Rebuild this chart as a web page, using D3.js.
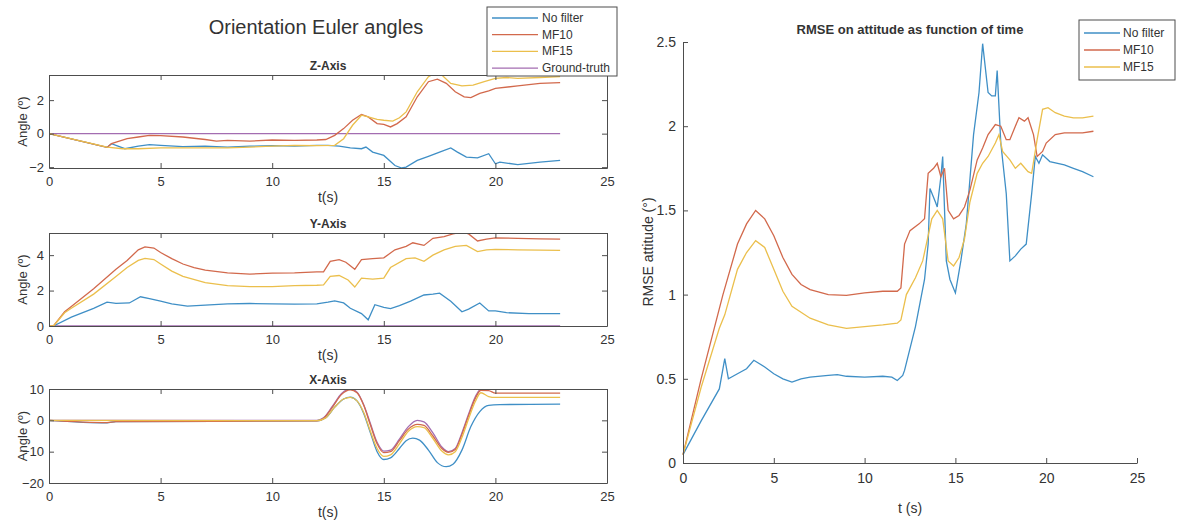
<!DOCTYPE html>
<html>
<head>
<meta charset="utf-8">
<script src="https://cdn.jsdelivr.net/npm/d3@7"></script>
<style>
  body { margin: 0; background: #fff; }
  text { font-family: "Liberation Sans", Arial, sans-serif; fill: #333; }
</style>
</head>
<body>
<svg id="chart" width="1178" height="529"></svg>
<script>
// series names + colours (matlab default order)
const seriesNames = ["No filter", "MF10", "MF15", "Ground-truth"];
const seriesColors = ["#3f8fc6", "#d2694c", "#ebbf4c", "#a36db1"];

const xTicks = [0, 5, 10, 15, 20, 25];

// Z-Axis panel, [t, angle]
const zNoFilter = [[0,0],[2.6,-0.82],[2.8,-0.6],[3.4,-0.9],[4,-0.75],[4.5,-0.65],[5,-0.7],[6,-0.78],[7,-0.75],[8,-0.8],[9,-0.75],[10,-0.72],[11,-0.75],[12,-0.7],[12.5,-0.7],[13,-0.75],[13.5,-0.85],[14,-0.9],[14.2,-0.8],[14.5,-1.1],[15,-1.3],[15.5,-1.9],[15.8,-2.05],[16,-2.0],[16.5,-1.6],[17,-1.35],[17.5,-1.1],[18,-0.85],[18.3,-1.1],[18.7,-1.4],[19.2,-1.45],[19.7,-1.2],[20,-1.8],[20.2,-1.7],[21,-1.85],[22,-1.7],[22.9,-1.6]];
const zMF10 = [[0,0],[2.6,-0.82],[2.8,-0.6],[3.5,-0.3],[4,-0.2],[4.5,-0.1],[5,-0.12],[6,-0.2],[7,-0.35],[7.5,-0.45],[8,-0.4],[9,-0.45],[10,-0.38],[11,-0.4],[12,-0.38],[12.4,-0.35],[12.8,-0.1],[13.2,0.3],[13.6,0.8],[14,1.15],[14.3,1.0],[14.7,0.6],[15,0.55],[15.3,0.4],[15.6,0.6],[16,1.0],[16.5,2.2],[17,3.1],[17.4,3.25],[17.8,3.0],[18.2,2.5],[18.6,2.2],[18.9,2.15],[19.3,2.4],[19.7,2.55],[20,2.7],[21,2.85],[22,3.0],[22.9,3.05]];
const zMF15 = [[0,0],[2.6,-0.8],[3.3,-0.9],[4,-0.9],[5,-0.85],[6,-0.85],[7,-0.85],[8,-0.85],[9,-0.8],[10,-0.75],[11,-0.7],[12,-0.72],[12.8,-0.7],[13.2,-0.3],[13.6,0.5],[14,1.1],[14.3,1.0],[14.7,0.85],[15,0.8],[15.4,0.75],[15.7,0.95],[16,1.3],[16.5,2.5],[17,3.4],[17.3,3.6],[17.6,3.5],[18,3.0],[18.5,2.85],[19,2.9],[19.5,3.1],[20,3.3],[20.5,3.35],[21,3.3],[22,3.35],[22.9,3.4]];
const zTruth = [[0,0],[22.9,0]];

// Y-Axis panel
const yNoFilter = [[0,0],[0.2,0],[1,0.5],[2,1.0],[2.6,1.35],[3,1.28],[3.6,1.3],[4.1,1.65],[4.5,1.55],[5,1.4],[5.5,1.25],[6.2,1.12],[7,1.18],[8,1.25],[9,1.27],[10,1.25],[11,1.24],[12,1.25],[12.5,1.35],[12.8,1.42],[13.2,1.3],[13.5,1.0],[14,0.7],[14.3,0.35],[14.6,1.2],[15,1.05],[15.3,0.98],[15.7,1.15],[16.2,1.4],[16.8,1.75],[17.2,1.8],[17.5,1.85],[18,1.4],[18.5,0.8],[18.8,0.95],[19.3,1.3],[19.7,0.85],[20,0.85],[20.5,0.75],[21.5,0.7],[22.9,0.7]];
const yMF10 = [[0,0],[0.2,0],[0.7,0.8],[1,1.1],[2,2.1],[3,3.2],[3.5,3.7],[4,4.3],[4.3,4.47],[4.7,4.4],[5,4.15],[5.5,3.8],[6,3.5],[6.5,3.3],[7,3.15],[8,3.0],[9,2.93],[10,2.98],[11,3.0],[12,3.05],[12.3,3.05],[12.6,3.65],[13,3.75],[13.3,3.6],[13.7,3.2],[14,3.75],[14.5,3.8],[15,3.85],[15.5,4.3],[16,4.5],[16.3,4.7],[16.8,4.55],[17.2,4.95],[17.7,5.05],[18.1,5.2],[18.5,5.3],[18.8,5.2],[19.2,4.8],[19.6,4.9],[20,4.97],[21,4.95],[22,4.92],[22.9,4.9]];
const yMF15 = [[0,0],[0.2,0],[0.7,0.75],[1,1.0],[2,1.8],[3,2.8],[3.5,3.3],[4,3.7],[4.3,3.82],[4.7,3.75],[5,3.5],[5.5,3.1],[6,2.8],[7,2.45],[8,2.28],[9,2.22],[10,2.22],[11,2.28],[12,2.3],[12.3,2.32],[12.6,2.8],[13,2.85],[13.4,2.6],[13.7,2.2],[14,2.7],[14.5,2.65],[15,2.7],[15.3,3.3],[16,3.8],[16.4,3.85],[16.8,3.65],[17.2,4.0],[17.7,4.3],[18.2,4.5],[18.7,4.55],[19.2,4.2],[19.6,4.3],[20,4.32],[21,4.3],[22,4.28],[22.9,4.27]];
const yTruth = [[0,0],[22.9,0]];

// X-Axis panel
const xNoFilter = [[0,0],[2.6,-0.8],[3,-0.4],[12,-0.2],[12.4,0.8],[12.8,4.2],[13.2,6.8],[13.5,7.4],[13.8,6.2],[14.1,2.2],[14.4,-4],[14.7,-10],[15,-12.5],[15.3,-12],[15.7,-9],[16,-6.5],[16.3,-5.7],[16.6,-6.3],[17,-9.5],[17.4,-13.5],[17.8,-14.8],[18.1,-14],[18.5,-9.5],[18.9,-2],[19.3,2.8],[19.7,4.8],[20.2,5],[22.9,5.2]];
const xMF10 = [[0,0],[2.6,-0.7],[3,-0.4],[12,-0.2],[12.3,0.6],[12.7,4.2],[13.1,8.2],[13.5,9.7],[13.8,8.8],[14.1,4.8],[14.4,-1.5],[14.7,-7.5],[15,-10.3],[15.3,-10],[15.7,-6.5],[16.1,-2.8],[16.5,-1.3],[16.8,-1.6],[17.2,-5],[17.6,-9],[17.9,-10.2],[18.2,-9.3],[18.5,-4.5],[18.8,1.5],[19.1,7],[19.35,9.6],[19.7,9.5],[20,8.7],[22.9,8.7]];
const xMF15 = [[0,0],[12,-0.1],[12.4,0.8],[12.8,4.2],[13.2,6.8],[13.5,7.3],[13.8,6.2],[14.1,2.5],[14.4,-3.5],[14.7,-9],[15,-11.5],[15.3,-11],[15.7,-7.5],[16.1,-3.5],[16.5,-2],[16.8,-2.3],[17.2,-5.8],[17.6,-9.8],[17.9,-11],[18.2,-10],[18.5,-5.5],[18.8,0.5],[19.1,6],[19.35,8.8],[19.7,7.6],[20,7.3],[22.9,7.3]];
const xTruth = [[0,0],[12,0],[12.3,0.8],[12.7,4.5],[13.1,8.5],[13.5,10],[13.8,9],[14.1,5],[14.4,-1],[14.7,-7],[15,-9.8],[15.3,-9.5],[15.7,-6],[16.1,-2],[16.5,0],[16.8,-0.5],[17.2,-4],[17.6,-8.5],[17.9,-10],[18.2,-9],[18.5,-4],[18.8,2],[19.1,7.5],[19.35,10],[20,10],[22.9,10]];

// RMSE panel
const rmseNoFilter = [[0,0.05],[1,0.25],[2,0.44],[2.3,0.62],[2.5,0.5],[3,0.53],[3.5,0.56],[3.9,0.61],[4.5,0.57],[5,0.53],[5.5,0.5],[6,0.48],[6.5,0.5],[7,0.51],[8,0.52],[8.5,0.525],[9,0.515],[10,0.51],[11,0.515],[11.5,0.51],[11.8,0.49],[12.1,0.52],[12.2,0.55],[12.8,0.81],[13.3,1.09],[13.5,1.3],[13.6,1.63],[13.9,1.55],[14,1.52],[14.2,1.7],[14.3,1.82],[14.5,1.2],[14.7,1.09],[15,1.01],[15.3,1.2],[15.6,1.42],[16,1.95],[16.3,2.2],[16.5,2.49],[16.8,2.2],[17,2.18],[17.2,2.18],[17.3,2.33],[17.5,1.9],[17.8,1.6],[18,1.2],[18.3,1.23],[18.6,1.27],[18.9,1.3],[19.2,1.6],[19.4,1.82],[19.6,1.78],[19.8,1.83],[20.2,1.79],[21,1.77],[21.5,1.75],[22,1.73],[22.6,1.7]];
const rmseMF10 = [[0,0.05],[1,0.5],[2.2,1.0],[3,1.3],[3.5,1.42],[4,1.5],[4.5,1.45],[5,1.35],[5.5,1.22],[6,1.12],[6.5,1.06],[7,1.03],[8,1.0],[9,0.995],[10,1.01],[11,1.02],[11.8,1.02],[12,1.04],[12.2,1.3],[12.5,1.38],[13,1.42],[13.3,1.45],[13.5,1.72],[13.8,1.75],[14,1.78],[14.2,1.7],[14.4,1.75],[14.6,1.5],[14.9,1.45],[15.2,1.47],[15.5,1.52],[15.8,1.62],[16.2,1.8],[16.5,1.87],[16.8,1.95],[17.2,2.01],[17.5,2.0],[17.8,1.92],[18,1.92],[18.3,2.0],[18.5,2.05],[18.8,2.03],[19,2.05],[19.3,1.95],[19.5,1.82],[19.8,1.85],[20,1.9],[20.5,1.95],[21,1.96],[22,1.96],[22.6,1.97]];
const rmseMF15 = [[0,0.05],[1,0.45],[2,0.8],[2.3,0.88],[3,1.15],[3.5,1.25],[4,1.32],[4.5,1.28],[5,1.15],[5.5,1.02],[6,0.93],[7,0.86],[8,0.82],[9,0.8],[10,0.81],[11,0.82],[11.8,0.83],[12,0.85],[12.3,1.0],[12.8,1.1],[13.2,1.2],[13.5,1.35],[13.7,1.45],[14,1.5],[14.3,1.45],[14.6,1.2],[14.9,1.17],[15.2,1.22],[15.5,1.33],[15.8,1.55],[16.2,1.72],[16.5,1.78],[16.8,1.82],[17.2,1.9],[17.4,1.95],[17.6,1.85],[18,1.8],[18.3,1.75],[18.6,1.78],[19,1.73],[19.2,1.72],[19.5,1.92],[19.8,2.1],[20.1,2.11],[20.5,2.08],[21,2.06],[21.5,2.05],[22,2.05],[22.6,2.06]];

// layout
const leftX0 = 49, leftX1 = 607;
const panels = [
  { title: "Z-Axis", top: 75, bottom: 168, domain: [-2.05, 3.5], ticks: [-2, 0, 2], data: [zNoFilter, zMF10, zMF15, zTruth], curve: d3.curveLinear },
  { title: "Y-Axis", top: 233, bottom: 326, domain: [0, 5.25], ticks: [0, 2, 4], data: [yNoFilter, yMF10, yMF15, yTruth], curve: d3.curveLinear },
  { title: "X-Axis", top: 389, bottom: 483, domain: [-20, 10], ticks: [-20, -10, 0, 10], data: [xNoFilter, xMF10, xMF15, xTruth], curve: d3.curveMonotoneX }
];

const svg = d3.select("#chart");
const axisColor = "#4d4d4d";
const fmt = d3.format("~g");

function styleAxis(g) {
  g.select(".domain").attr("stroke", axisColor);
  g.selectAll(".tick line").attr("stroke", axisColor);
  g.selectAll(".tick text").attr("fill", "#333").style("font-family", "Liberation Sans, Arial, sans-serif");
}

panels.forEach((p, i) => {
  const x = d3.scaleLinear().domain([0, 25]).range([leftX0, leftX1]);
  const y = d3.scaleLinear().domain(p.domain).range([p.bottom, p.top]);
  const g = svg.append("g");

  g.append("clipPath").attr("id", "clip" + i)
    .append("rect")
    .attr("x", leftX0).attr("y", p.top)
    .attr("width", leftX1 - leftX0).attr("height", p.bottom - p.top);

  const line = d3.line().x(d => x(d[0])).y(d => y(d[1])).curve(p.curve);

  // ground truth first, then no filter, MF10, MF15 on top
  const order = [3, 0, 1, 2];
  g.append("g").attr("clip-path", `url(#clip${i})`)
    .selectAll("path")
    .data(order)
    .join("path")
    .attr("d", k => line(p.data[k]))
    .attr("fill", "none")
    .attr("stroke", k => seriesColors[k])
    .attr("stroke-width", 1.3);

  // box + axes, ticks inward on all four sides
  g.append("g").attr("transform", `translate(0,${p.bottom})`)
    .call(d3.axisBottom(x).tickValues(xTicks).tickFormat(fmt).tickSize(-5).tickPadding(9).tickSizeOuter(0))
    .call(styleAxis)
    .call(g => g.selectAll(".tick text").style("font-size", "13px"));
  g.append("g").attr("transform", `translate(0,${p.top})`)
    .call(d3.axisTop(x).tickValues(xTicks).tickSize(-5).tickFormat("").tickSizeOuter(0))
    .call(styleAxis);
  g.append("g").attr("transform", `translate(${leftX0},0)`)
    .call(d3.axisLeft(y).tickValues(p.ticks).tickFormat(fmt).tickSize(-5).tickPadding(5).tickSizeOuter(0))
    .call(styleAxis)
    .call(g => g.selectAll(".tick text").style("font-size", "13px"));
  g.append("g").attr("transform", `translate(${leftX1},0)`)
    .call(d3.axisRight(y).tickValues(p.ticks).tickSize(-5).tickFormat("").tickSizeOuter(0))
    .call(styleAxis);

  g.append("text")
    .attr("x", (leftX0 + leftX1) / 2).attr("y", p.top - 5)
    .attr("text-anchor", "middle")
    .style("font-size", "12px").style("font-weight", "bold")
    .attr("fill", "#222")
    .text(p.title);

  g.append("text")
    .attr("x", (leftX0 + leftX1) / 2).attr("y", p.bottom + 34)
    .attr("text-anchor", "middle")
    .style("font-size", "14px")
    .text("t(s)");

  g.append("text")
    .attr("transform", `translate(27,${(p.top + p.bottom) / 2}) rotate(-90)`)
    .attr("text-anchor", "middle")
    .style("font-size", "13px")
    .text("Angle (º)");
});

svg.append("text")
  .attr("x", 316).attr("y", 34)
  .attr("text-anchor", "middle")
  .style("font-size", "20px")
  .attr("fill", "#222")
  .text("Orientation Euler angles");

// left legend
const leftLegend = svg.append("g");
leftLegend.append("rect")
  .attr("x", 487).attr("y", 7).attr("width", 130).attr("height", 69)
  .attr("fill", "#fff").attr("stroke", axisColor);
seriesNames.forEach((name, k) => {
  const cy = 18 + k * 16.7;
  leftLegend.append("line")
    .attr("x1", 492).attr("x2", 538).attr("y1", cy).attr("y2", cy)
    .attr("stroke", seriesColors[k]).attr("stroke-width", 1.3);
  leftLegend.append("text")
    .attr("x", 542).attr("y", cy + 4)
    .style("font-size", "12px")
    .text(name);
});

// RMSE panel
const rx = d3.scaleLinear().domain([0, 25]).range([683, 1137]);
const ry = d3.scaleLinear().domain([0, 2.5]).range([463, 42]);
const rLine = d3.line().x(d => rx(d[0])).y(d => ry(d[1]));
const rmseData = [rmseNoFilter, rmseMF10, rmseMF15];

svg.append("g")
  .selectAll("path")
  .data([0, 1, 2])
  .join("path")
  .attr("d", k => rLine(rmseData[k]))
  .attr("fill", "none")
  .attr("stroke", k => seriesColors[k])
  .attr("stroke-width", 1.3);

svg.append("g").attr("transform", "translate(0,463)")
  .call(d3.axisBottom(rx).tickValues(xTicks).tickFormat(fmt).tickSize(-5).tickPadding(10).tickSizeOuter(0))
  .call(styleAxis)
  .call(g => g.selectAll(".tick text").style("font-size", "14px"));
svg.append("g").attr("transform", "translate(683,0)")
  .call(d3.axisLeft(ry).tickValues([0, 0.5, 1, 1.5, 2, 2.5]).tickFormat(fmt).tickSize(-5).tickPadding(7).tickSizeOuter(0))
  .call(styleAxis)
  .call(g => g.selectAll(".tick text").style("font-size", "14px"));

svg.append("text")
  .attr("x", 910).attr("y", 34)
  .attr("text-anchor", "middle")
  .style("font-size", "13px").style("font-weight", "bold")
  .attr("fill", "#222")
  .text("RMSE on attitude as function of time");

svg.append("text")
  .attr("x", 910).attr("y", 513)
  .attr("text-anchor", "middle")
  .style("font-size", "14px")
  .text("t (s)");

svg.append("text")
  .attr("transform", "translate(653,252) rotate(-90)")
  .attr("text-anchor", "middle")
  .style("font-size", "14px")
  .text("RMSE attitude (°)");

// right legend
const rightLegend = svg.append("g");
rightLegend.append("rect")
  .attr("x", 1079).attr("y", 20).attr("width", 96).attr("height", 60)
  .attr("fill", "#fff").attr("stroke", axisColor);
seriesNames.slice(0, 3).forEach((name, k) => {
  const cy = 33 + k * 17;
  rightLegend.append("line")
    .attr("x1", 1084).attr("x2", 1120).attr("y1", cy).attr("y2", cy)
    .attr("stroke", seriesColors[k]).attr("stroke-width", 1.3);
  rightLegend.append("text")
    .attr("x", 1123).attr("y", cy + 4)
    .style("font-size", "12px")
    .text(name);
});
</script>
</body>
</html>
